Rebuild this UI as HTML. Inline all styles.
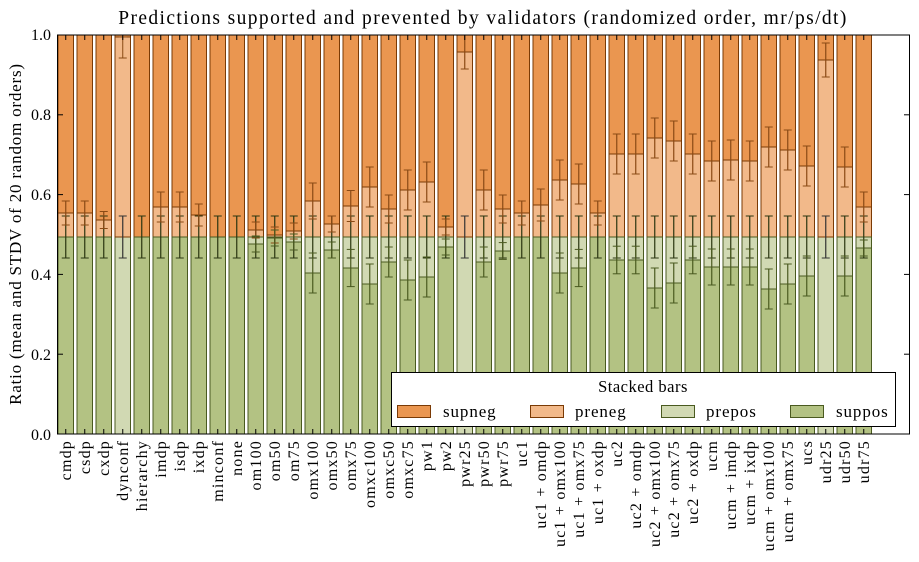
<!DOCTYPE html>
<html><head><meta charset="utf-8">
<style>
html,body{margin:0;padding:0;background:#fff;}
svg{display:block;font-family:"Liberation Serif",serif;}
</style></head>
<body>
<svg id="c" width="919" height="562" viewBox="0 0 919 562" xmlns="http://www.w3.org/2000/svg">
<rect width="919" height="562" fill="#fff"/>
<g id="bars"></g>
<rect x="57.5" y="35" width="852" height="399" fill="none" stroke="#000" stroke-width="1"/>
<g id="ticks" stroke="#000" stroke-width="1"></g>
<text x="483" y="24" font-size="19.5" letter-spacing="1.4" text-anchor="middle">Predictions supported and prevented by validators (randomized order, mr/ps/dt)</text>
<g font-size="16" text-anchor="end">
<text x="51" y="40">1.0</text><text x="51" y="120">0.8</text><text x="51" y="200">0.6</text>
<text x="51" y="280">0.4</text><text x="51" y="360">0.2</text><text x="51" y="440">0.0</text>
</g>
<text transform="translate(21,234) rotate(-90)" font-size="17" letter-spacing="0.8" text-anchor="middle">Ratio (mean and STDV of 20 random orders)</text>
<g font-size="16" letter-spacing="1.2" text-anchor="end" id="xl">
<text transform="translate(71,440) rotate(-90)">cmdp</text>
<text transform="translate(90,440) rotate(-90)">csdp</text>
<text transform="translate(109,440) rotate(-90)">cxdp</text>
<text transform="translate(128,440) rotate(-90)">dynconf</text>
<text transform="translate(147,440) rotate(-90)">hierarchy</text>
<text transform="translate(166,440) rotate(-90)">imdp</text>
<text transform="translate(185,440) rotate(-90)">isdp</text>
<text transform="translate(204,440) rotate(-90)">ixdp</text>
<text transform="translate(223,440) rotate(-90)">minconf</text>
<text transform="translate(242,440) rotate(-90)">none</text>
<text transform="translate(261,440) rotate(-90)">om100</text>
<text transform="translate(280,440) rotate(-90)">om50</text>
<text transform="translate(299,440) rotate(-90)">om75</text>
<text transform="translate(318,440) rotate(-90)">omx100</text>
<text transform="translate(337,440) rotate(-90)">omx50</text>
<text transform="translate(356,440) rotate(-90)">omx75</text>
<text transform="translate(375,440) rotate(-90)">omxc100</text>
<text transform="translate(394,440) rotate(-90)">omxc50</text>
<text transform="translate(413,440) rotate(-90)">omxc75</text>
<text transform="translate(432,440) rotate(-90)">pw1</text>
<text transform="translate(451,440) rotate(-90)">pw2</text>
<text transform="translate(470,440) rotate(-90)">pwr25</text>
<text transform="translate(489,440) rotate(-90)">pwr50</text>
<text transform="translate(508,440) rotate(-90)">pwr75</text>
<text transform="translate(527,440) rotate(-90)">uc1</text>
<text transform="translate(546,440) rotate(-90)">uc1 + omdp</text>
<text transform="translate(565,440) rotate(-90)">uc1 + omx100</text>
<text transform="translate(584,440) rotate(-90)">uc1 + omx75</text>
<text transform="translate(603,440) rotate(-90)">uc1 + oxdp</text>
<text transform="translate(622,440) rotate(-90)">uc2</text>
<text transform="translate(641,440) rotate(-90)">uc2 + omdp</text>
<text transform="translate(660,440) rotate(-90)">uc2 + omx100</text>
<text transform="translate(679,440) rotate(-90)">uc2 + omx75</text>
<text transform="translate(698,440) rotate(-90)">uc2 + oxdp</text>
<text transform="translate(717,440) rotate(-90)">ucm</text>
<text transform="translate(736,440) rotate(-90)">ucm + imdp</text>
<text transform="translate(755,440) rotate(-90)">ucm + ixdp</text>
<text transform="translate(774,440) rotate(-90)">ucm + omx100</text>
<text transform="translate(793,440) rotate(-90)">ucm + omx75</text>
<text transform="translate(812,440) rotate(-90)">ucs</text>
<text transform="translate(831,440) rotate(-90)">udr25</text>
<text transform="translate(850,440) rotate(-90)">udr50</text>
<text transform="translate(869,440) rotate(-90)">udr75</text>
</g>
<g>
<rect x="391.5" y="372.5" width="504" height="54" fill="#fff" stroke="#000"/>
<text x="643" y="392" font-size="16.5" letter-spacing="0.5" text-anchor="middle">Stacked bars</text>
<rect x="397.5" y="405.5" width="33" height="12" fill="#ea9650" stroke="#7a3a05"/>
<text x="443" y="417" font-size="17" letter-spacing="0.9">supneg</text>
<rect x="530.5" y="405.5" width="33" height="12" fill="#f2b98a" stroke="#7a3a05"/>
<text x="575" y="417" font-size="17" letter-spacing="0.9">preneg</text>
<rect x="661.5" y="405.5" width="33" height="12" fill="#d1d9b3" stroke="#4a5a20"/>
<text x="706" y="417" font-size="17" letter-spacing="0.9">prepos</text>
<rect x="790.5" y="405.5" width="33" height="12" fill="#b3c283" stroke="#4a5a20"/>
<text x="836" y="417" font-size="17" letter-spacing="0.9">suppos</text>
</g>
</svg>
<script>
var d=[[237,213],[237,213],[237,220],[-1,37],[237,237],[237,207],[237,207],[237,215],[237,237],[237,237],
[244,230],[238,235],[242,231],[273,201],[250,224],[268,206],[284,187],[262,209],[280,190],[277,182],
[247,227],[-1,52],[262,190],[251,209],[237,213],[237,205],[273,180],[268,184],[237,213],[260,154],
[260,154],[288,138],[283,141],[260,154],[267,161],[267,160],[267,161],[289,147],[284,150],[276,166],
[-1,60],[276,167],[248,207]];
var NS="http://www.w3.org/2000/svg",g=document.getElementById('bars'),t=document.getElementById('ticks');
function el(n,a,p){var e=document.createElementNS(NS,n);for(var k in a)e.setAttribute(k,a[k]);(p||g).appendChild(e);return e;}
function eb(x,y,h,c){el('line',{x1:x,x2:x,y1:y-h,y2:y+h,stroke:c,'stroke-width':1.2});el('line',{x1:x-4,x2:x+4,y1:y-h,y2:y-h,stroke:c});el('line',{x1:x-4,x2:x+4,y1:y+h,y2:y+h,stroke:c});}
var mid=237;
d.forEach(function(v,i){
 var x=57.5+19*i+0.5,w=15.5,cx=x+w/2;
 var gt=v[0],ob=v[1];
 if(gt<0){
  el('rect',{x:x,y:mid,width:w,height:434-mid,fill:'#d1d9b3',stroke:'#4a5a20'});
  el('rect',{x:x,y:35,width:w,height:ob-35,fill:'#ea9650',stroke:'#7a3a05'});
  el('rect',{x:x,y:ob,width:w,height:mid-ob,fill:'#f2b98a',stroke:'#7a3a05'});
  eb(cx,mid,21,'#333');
  if(ob>40) eb(cx,ob,17,'#8a4a15');
  else {el('line',{x1:cx-4,x2:cx+4,y1:37,y2:37,stroke:'#8a4a15'});el('line',{x1:cx,x2:cx,y1:37,y2:58,stroke:'#8a4a15'});el('line',{x1:cx-4,x2:cx+4,y1:58,y2:58,stroke:'#8a4a15'});}
 } else {
  el('rect',{x:x,y:35,width:w,height:ob-35,fill:'#ea9650',stroke:'#7a3a05'});
  if(ob<mid) el('rect',{x:x,y:ob,width:w,height:mid-ob,fill:'#f2b98a',stroke:'#7a3a05'});
  if(gt>mid) el('rect',{x:x,y:mid,width:w,height:gt-mid,fill:'#d1d9b3',stroke:'#4a5a20'});
  el('rect',{x:x,y:gt,width:w,height:434-gt,fill:'#b3c283',stroke:'#4a5a20'});
  eb(cx,mid,21,'#2a3510');
  if(ob<mid) eb(cx,ob,Math.min(20,Math.max(8,(mid-ob)*0.5)),'#8a4a15');
  if(gt>mid) eb(cx,gt,Math.min(20,Math.max(8,(gt-mid)*0.6)),'#4a5a20');
 }
 el('line',{x1:cx,x2:cx,y1:35,y2:40},t);el('line',{x1:cx,x2:cx,y1:434,y2:429},t);
});
for(var k=0;k<=5;k++){var y=35+k*79.8;el('line',{x1:57.5,x2:63,y1:y,y2:y},t);el('line',{x1:909.5,x2:904,y1:y,y2:y},t);}
</script>
</body></html>
